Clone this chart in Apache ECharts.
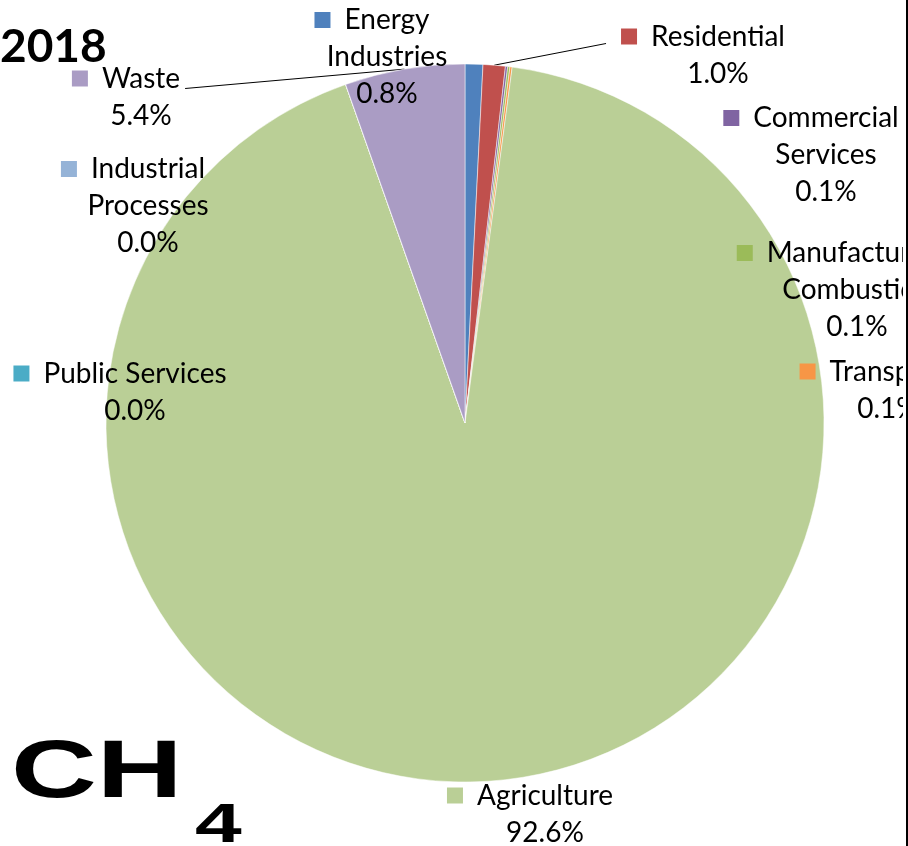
<!DOCTYPE html>
<html>
<head>
<meta charset="utf-8">
<script src="https://cdn.jsdelivr.net/npm/echarts@6/dist/echarts.min.js"></script>
<style>
  html, body { margin: 0; padding: 0; background: #ffffff; }
  #chart { width: 908px; height: 846px; }
</style>
</head>
<body>
<div id="chart"></div>
<script>
// CH4 emissions by source sector, 2018 (share of total, %)
const sectors = ['Energy Industries', 'Residential', 'Commercial Services', 'Manufacturing Combustion',
                 'Transport', 'Agriculture', 'Public Services', 'Industrial Processes', 'Waste'];
const labelText = ['Energy\nIndustries', 'Residential', 'Commercial\nServices', 'Manufacturing\nCombustion',
                   'Transport', 'Agriculture', 'Public Services', 'Industrial\nProcesses', 'Waste'];
const shares = [0.8, 1.0, 0.1, 0.1, 0.1, 92.6, 0.0, 0.0, 5.4];

// slice colours, one per sector
const colors = ['#4F81BD', '#C0504D', '#8064A2', '#9BBB59', '#F79646',
                '#BACF96', '#4BACC6', '#95B3D7', '#AA9CC4'];

// label block centres (px) and which labels get a leader line
const labelAnchors = [[387, 57], [718, 55], [826, 155], [857, 290], [888, 390],
                      [545, 814], [135, 392], [148, 206], [141, 97]];
const leaderLines = [false, true, false, false, false, false, false, false, true];

const LINE_H = 37;
const MARK = 16, GAP = 14;

const rich = {
  g: { width: GAP },
  p: { width: MARK + GAP }
};
colors.forEach((c, i) => {
  rich['m' + i] = { width: MARK, height: MARK, backgroundColor: c };
});

const chart = echarts.init(document.getElementById('chart'));

chart.setOption({
  backgroundColor: '#ffffff',
  animation: false,
  series: [{
    type: 'pie',
    center: [465, 423],
    radius: 359,
    startAngle: 90,
    clockwise: true,
    avoidLabelOverlap: false,
    itemStyle: { borderColor: '#ffffff', borderWidth: 0.5 },
    label: {
      show: true,
      fontFamily: 'Lato',
      fontSize: 28,
      lineHeight: LINE_H,
      color: '#000000',
      align: 'center',
      rich: rich,
      formatter: function (p) {
        const lines = labelText[p.dataIndex].split('\n');
        lines[0] = '{m' + p.dataIndex + '|}{g|}' + lines[0] + '{p|}';
        lines.push(p.value.toFixed(1) + '%');
        return lines.join('\n');
      }
    },
    labelLine: {
      show: true,
      lineStyle: { color: '#000000', width: 1 }
    },
    labelLayout: function (p) {
      const i = p.dataIndex;
      const x = labelAnchors[i][0], y = labelAnchors[i][1];
      const out = { x: x, y: y, align: 'center', verticalAlign: 'middle' };
      if (leaderLines[i] && p.labelLinePoints) {
        const w = p.labelRect.width, h = p.labelRect.height;
        const lineY = y - h / 2 + LINE_H / 2;
        const start = p.labelLinePoints[0];
        const end = (start[0] < x)
          ? [x - w / 2 - 15, lineY + 7]
          : [x + w / 2 - (MARK + GAP) + 5, lineY + 10];
        out.labelLinePoints = [start, end, end];
      }
      return out;
    },
    data: sectors.map((name, i) => ({
      name: name,
      value: shares[i],
      itemStyle: { color: colors[i] },
      labelLine: { show: leaderLines[i] }
    }))
  }],
  graphic: [
    {
      type: 'text', x: 0, y: 24, z: 100,
      style: { text: '2018', font: 'bold 46px Lato', fill: '#000000', verticalAlign: 'top' }
    },
    {
      type: 'text', x: 11, y: 733, z: 100, scaleX: 1.45,
      style: { text: 'CH', font: 'bold 82px "Liberation Sans"', fill: '#000000', verticalAlign: 'top' }
    },
    {
      type: 'text', x: 195, y: 799, z: 100, scaleX: 1.5,
      style: { text: '4', font: 'bold 56px "Liberation Sans"', fill: '#000000', verticalAlign: 'top' }
    },
    {
      type: 'rect', z: 100,
      shape: { x: 903, y: 0, width: 3, height: 846 },
      style: { fill: '#ffffff' }
    },
    {
      type: 'rect', z: 101,
      shape: { x: 906, y: 0, width: 2, height: 846 },
      style: { fill: '#000000' }
    }
  ]
});
</script>
</body>
</html>
